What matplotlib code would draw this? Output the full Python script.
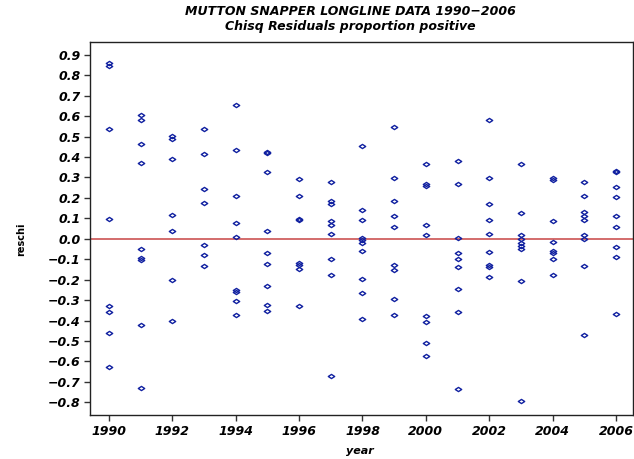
import matplotlib
matplotlib.use("Agg")
import matplotlib.pyplot as plt
from matplotlib.path import Path
import numpy as np

years = list(range(1990, 2007))
resid = {
    1990: [0.86, 0.845, 0.537, 0.098, -0.331, -0.356, -0.461, -0.628],
    1991: [0.607, 0.582, 0.465, 0.370, -0.049, -0.094, -0.103, -0.424, -0.730],
    1992: [0.504, 0.488, 0.390, 0.117, 0.039, -0.201, -0.404],
    1993: [0.537, 0.414, 0.245, 0.176, -0.029, -0.078, -0.132],
    1994: [0.656, 0.434, 0.207, 0.075, 0.011, -0.25, -0.262, -0.303, -0.372],
    1995: [0.425, 0.418, 0.329, 0.039, -0.070, -0.121, -0.233, -0.326, -0.351],
    1996: [0.292, 0.207, 0.095, 0.090, -0.117, -0.127, -0.150, -0.328],
    1997: [0.276, 0.183, 0.171, 0.085, 0.065, 0.024, -0.099, -0.179, -0.670],
    1998: [0.452, 0.142, 0.090, 0.003, -0.008, -0.020, -0.059, -0.196, -0.263, -0.391],
    1999: [0.545, 0.295, 0.187, 0.113, 0.060, -0.130, -0.155, -0.294, -0.372],
    2000: [0.365, 0.269, 0.260, 0.068, 0.018, -0.377, -0.409, -0.510, -0.576],
    2001: [0.382, 0.269, 0.003, -0.071, -0.098, -0.137, -0.245, -0.360, -0.734],
    2002: [0.579, 0.297, 0.171, 0.090, 0.024, -0.067, -0.128, -0.136, -0.189],
    2003: [0.367, 0.126, 0.020, -0.003, -0.022, -0.035, -0.048, -0.205, -0.793],
    2004: [0.295, 0.288, 0.085, -0.018, -0.062, -0.070, -0.097, -0.175],
    2005: [0.280, 0.207, 0.129, 0.109, 0.093, 0.020, -0.001, -0.133, -0.473],
    2006: [0.332, 0.325, 0.253, 0.204, 0.113, 0.057, -0.041, -0.090, -0.367],
}
yticks = [round(v, 1) + 0.0 for v in np.arange(-0.8, 0.91, 0.1)]
xticks = list(range(1990, 2007, 2))

xs, ys = [], []
for yr in years:
    for v in resid[yr]:
        xs.append(yr)
        ys.append(v)

diamond = Path([(-1, 0), (0, 0.65), (1, 0), (0, -0.65), (-1, 0)],
               [Path.MOVETO, Path.LINETO, Path.LINETO, Path.LINETO, Path.CLOSEPOLY])


def ylab(t):
    if abs(t) < 1e-9:
        return "0.0"
    return f"{t:.1f}".replace("-", "\u2212")


font = ["DejaVu Sans"]
fig = plt.figure(figsize=(6.34, 4.59), dpi=100)
ax = fig.add_axes([0.142, 0.096, 0.857, 0.813])
ax.axhline(0, color="#d06060", lw=1.3, zorder=1)
ax.plot(xs, ys, linestyle="none", marker=diamond, markersize=4.6,
        markerfacecolor="none", markeredgecolor="#1020a0", markeredgewidth=1.0, zorder=2)

ax.set_xlim(1989.4, 2006.55)
ax.set_ylim(-0.862, 0.964)
ax.set_xticks(xticks)
ax.set_yticks(yticks)
ax.set_xticklabels([str(t) for t in xticks], fontsize=9, fontweight="bold",
                   fontstyle="italic", family=font)
ax.set_yticklabels([ylab(t) for t in yticks], fontsize=9,
                   fontweight="bold", fontstyle="italic", family=font)
ax.tick_params(direction="out", length=4, width=1, color="#333333", pad=3)
for s in ax.spines.values():
    s.set_linewidth(1.0)
    s.set_color("#222222")

fig.text(0.553, 0.974, "MUTTON SNAPPER LONGLINE DATA 1990\u22122006", ha="center", va="center",
         fontsize=9, fontweight="bold", fontstyle="italic", family=font)
fig.text(0.553, 0.942, "Chisq Residuals proportion positive", ha="center", va="center",
         fontsize=9, fontweight="bold", fontstyle="italic", family=font)
fig.text(0.567, 0.018, "year", ha="center", va="center",
         fontsize=8, fontweight="bold", fontstyle="italic", family=font)
fig.text(0.033, 0.478, "reschi", ha="center", va="center", rotation=90,
         fontsize=7, fontweight="bold", family=font)

fig.savefig("out.png", dpi=100)
